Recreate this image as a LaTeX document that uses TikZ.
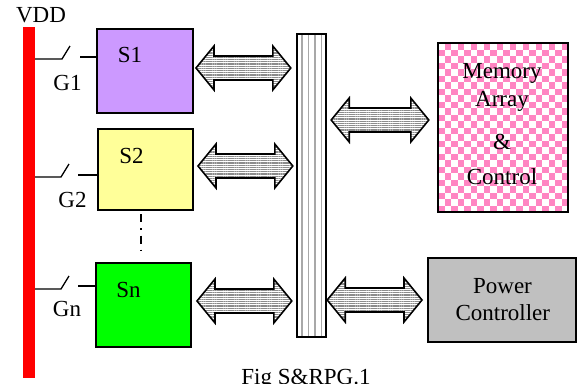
\documentclass[tikz,border=0pt]{standalone}
\usepackage{fontspec}
\setmainfont{Liberation Serif}
\usetikzlibrary{calc,patterns.meta}

\definecolor{sonepurple}{HTML}{CC99FF}
\definecolor{stwoyellow}{HTML}{FFFF99}
\definecolor{sngreen}{HTML}{00FF00}
\definecolor{mempink}{HTML}{FF85C2}
\definecolor{pcgray}{HTML}{C0C0C0}
\definecolor{stripegray}{HTML}{A8A8A8}
\definecolor{arrowgray}{HTML}{8C8C8C}

% wide double-headed block arrow between two tip points
\newcommand\blockarrow[2]{%
  \draw[barrow] (#1) -- ++(18,-22) -- ++(0,10) -- ($(#2)+(-18,-12)$) -- ++(0,-10)
    -- (#2) -- ++(-18,22) -- ++(0,-10) -- ($(#1)+(18,12)$) -- ++(0,10) -- cycle;}

\begin{document}
\begin{tikzpicture}[x=1pt,y=-1pt,
  font=\fontsize{23pt}{25pt}\selectfont,
  block/.style={draw=black, line width=1.8pt, inner sep=0pt, outer sep=0pt},
  txt/.style={inner sep=0pt, anchor=base},
  wire/.style={line width=1.3pt},
  barrow/.style={draw=black, line width=1.6pt, line join=miter,
    preaction={fill=white},
    pattern={Lines[angle=0,distance=2.2pt,line width=1.1pt]}, pattern color=arrowgray}]

\useasboundingbox (0,0) rectangle (578,383);

% supply rail
\node[fill=red, inner sep=0pt, minimum width=12pt, minimum height=351pt] (rail) at (29,202.5) {};
\node[txt] (vdd) at (41,22) {VDD};

% switched blocks
\node[block, fill=sonepurple, minimum width=96pt, minimum height=84pt] (s1) at (145,71) {};
\node[block, fill=stwoyellow, minimum width=95pt, minimum height=81pt] (s2) at (145.5,169.5) {};
\node[block, fill=sngreen, minimum width=95pt, minimum height=84pt] (sn) at (143.5,305) {};
\node[txt] (s1t) at (130,62) {S1};
\node[txt] (s2t) at (131.5,163) {S2};
\node[txt] (snt) at (128.5,297) {Sn};

% gate switches
\coordinate (g1p) at (62,59);  \coordinate (g1q) at (80,57);
\coordinate (g2p) at (61,177); \coordinate (g2q) at (78,175);
\coordinate (gnp) at (61,289); \coordinate (gnq) at (78,286);
\draw[wire] (rail.east |- g1p) -- (g1p) -- ++(8,-13);
\draw[wire] (g1q) -- (s1.west |- g1q);
\draw[wire] (rail.east |- g2p) -- (g2p) -- ++(8,-13);
\draw[wire] (g2q) -- (s2.west |- g2q);
\draw[wire] (rail.east |- gnp) -- (gnp) -- ++(8,-13);
\draw[wire] (gnq) -- (sn.west |- gnq);
\node[txt] (g1) at (67.5,90) {G1};
\node[txt] (g2) at (72.5,207) {G2};
\node[txt] (gn) at (67,316) {Gn};

% omitted blocks
\draw[line width=1.8pt, dash pattern=on 8pt off 6pt on 1.5pt off 6pt] (140.7,214) -- (140.7,253);

% shared bus
\path node[inner sep=0pt, fill=white, minimum width=29pt, minimum height=303pt] (bus) at (311.5,185.5) {};
\foreach \sx in {301.7,308.3,315,321.5}
  \draw[stripegray, line width=1.6pt] (\sx,35) -- (\sx,336);
\draw[line width=1.8pt] (bus.north west) rectangle (bus.south east);

% memory array block with checkered fill
\path node[inner sep=0pt, minimum width=130pt, minimum height=169pt] (mem) at (503,127.5) {};
\begin{scope}
  \clip (mem.north west) rectangle (mem.south east);
  \fill[mempink] (mem.north west) rectangle (mem.south east);
  \foreach \i in {0,...,20}
    \foreach \j in {0,...,26}{
      \pgfmathparse{int(mod(\i+\j,2))}
      \ifnum\pgfmathresult=0
        \fill[white] (438+\i*6.5,43+\j*6.5) rectangle ++(6.5,6.5);
      \fi}
\end{scope}
\draw[line width=1.8pt] (mem.north west) rectangle (mem.south east);
\node[txt] (m1) at (502,78) {Memory};
\node[txt] (m2) at (502,106) {Array};
\node[txt] (m3) at (502,149) {\&};
\node[txt] (m4) at (502,184) {Control};

% power controller
\node[block, fill=pcgray, minimum width=148pt, minimum height=84pt] (pc) at (502,300) {};
\node[txt] (p1) at (502.5,293) {Power};
\node[txt] (p2) at (502.8,320) {Controller};

% bus links
\blockarrow{$(s1.east)+(3,-3)$}{$(bus.west |- s1.east)+(-6,-3)$}
\blockarrow{$(s2.east)+(5,-3.5)$}{$(bus.west |- s2.east)+(-4,-3.5)$}
\blockarrow{$(sn.east)+(6,-4)$}{$(bus.west |- sn.east)+(-5,-4)$}
\blockarrow{$(bus.east |- mem.west)+(5,-7.5)$}{$(mem.west)+(-9,-7.5)$}
\blockarrow{$(bus.east |- pc.west)+(1,0)$}{$(pc.west)+(-6,0)$}

% caption
\node[txt] (cap) at (306,384) {Fig S\&RPG.1};
\end{tikzpicture}
\end{document}
